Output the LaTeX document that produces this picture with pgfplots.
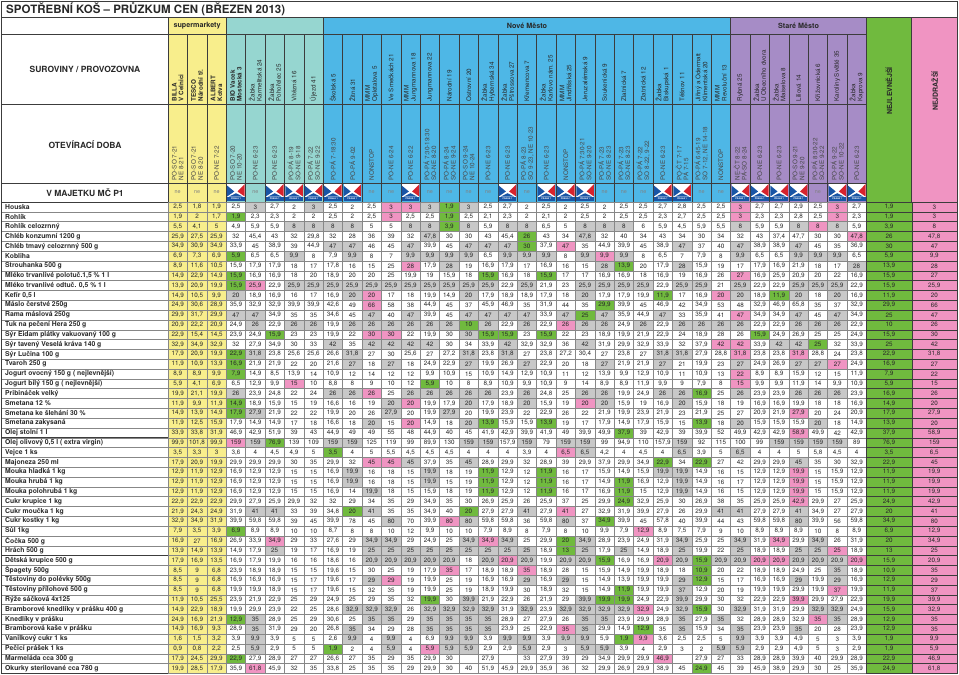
\documentclass[border=0pt]{standalone}
\usepackage{fontspec}
\setmainfont{TeX Gyre Heros}
\usepackage{pgfplots}
\usepackage{pgfplotstable}
\pgfplotsset{compat=1.18}

\definecolor{supc}{RGB}{248,238,140}
\definecolor{tealc}{RGB}{150,214,208}
\definecolor{bluec}{RGB}{78,183,230}
\definecolor{purc}{RGB}{166,140,198}
\definecolor{lowc}{RGB}{112,186,62}
\definecolor{highc}{RGB}{240,148,194}
\definecolor{grayc}{RGB}{200,200,200}
\definecolor{gridc}{RGB}{135,135,135}
\definecolor{darkc}{RGB}{60,60,60}
\definecolor{txtc}{RGB}{40,40,40}
\definecolor{logoblue}{RGB}{25,85,165}
\definecolor{logored}{RGB}{215,35,45}

% one table cell = 19.4 x 9.82 px (1 axis unit = 1pt)
\pgfdeclareplotmark{cell}{\pgfpathrectangle{\pgfqpoint{-9.7pt}{-4.91pt}}{\pgfqpoint{19.4pt}{9.82pt}}\pgfusepathqfillstroke}
\pgfdeclareplotmark{wcell}{\pgfpathrectangle{\pgfqpoint{-22.65pt}{-4.91pt}}{\pgfqpoint{45.3pt}{9.82pt}}\pgfusepathqfillstroke}

\pgfkeys{/pgf/number format/.cd, fixed, precision=1, use comma, 1000 sep={}, assume math mode=true}

\tikzset{
  lab/.style={anchor=west, inner sep=0pt, text=txtc, font=\bfseries\fontsize{6.8}{8}\selectfont},
  hdr/.style={inner sep=0pt, text=txtc, font=\bfseries\fontsize{8.5}{10}\selectfont},
  rot/.style={rotate=90, anchor=west, align=left, inner sep=0pt, text=txtc, font=\fontsize{6.3}{6.9}\selectfont},
}

% prices: 36 shops + cheapest + dearest
\pgfplotstableread{
s1 s2 s3 s4 s5 s6 s7 s8 s9 s10 s11 s12 s13 s14 s15 s16 s17 s18 s19 s20 s21 s22 s23 s24 s25 s26 s27 s28 s29 s30 s31 s32 s33 s34 s35 s36 lo hi
2.5 1.8 1.9 2.5 3 2.7 2 3  2.5 2 2.5 3 3 3 1.9 3 2.5 2.7 2 2.5 2 2.5 2 2.5 2.5  2.7 2.8 2.5 2.5 3 2.7 2.7 2.9 2.5 3 2.7  1.9 3
1.9 2 1.7 1.9 2.3 2.3 2 2  2.5 2 2.5 3 2.5 2.5 1.9 2.5 2.1 2.3 2 2.1 2 2.5 2 2.5 2.5  2.3 2.7 2.5 2.5 3 2.3 2.3 2.8 2.5 3 2.3  1.9 3
5.5 4.1 5 4.9 5.9 5.9 8 8  8 8 5 5 8 8 3.9 8 5.9 8 8 6.5 5 8 8 8 6  5.9 4.5 5.9 5.5 8 5.9 5.9 8 8 8 5.9  3.9 8
25.9 27.5 25.9 32 45.4 43 32 29.8  32 28 36 39 32 47.8 30 30 43 45.4 26 43 34 47.8 32 40 34  43 34 30 34 32 43 37.4 47.7 30 30 47.8  26 47.8
34.9 30.9 34.9 33.9 45 38.9 39 44.9  47 47 46 45 47 39.9 45 47 47 47 30 37.9 47 35 44.9 39.9 45  38.9 47 37 40 47 38.9 38.9 47 45 35 36.9  30 47
6.9 7.3 6.9 5.9 6.5 6.5 9.9 8  7.9 9.9 8 7 9.9 9.9 9.9 9.9 6.5 9.9 9.9 9.9 8 9.9 9.9 9.9 8  6.5 7 7.9 8 9.9 6.5 6.5 9.9 9.9 9.9 6.5  5.9 9.9
8.9 11.6 10.5 15.9 17.9 17.9 18 17  17.8 16 15 25 28 17.9 28 19 16.9 17.9 17 16.9 16 15 28 13.9 20  17.9 28 15.9 19 17 17.9 16.9 21.9 18 17 28  13.9 28
14.9 22.9 14.9 15.9 16.9 16.9 18 20  18.9 20 20 25 19.9 19 15.9 18 15.9 16.9 18 15.9 17 17 16.9 16.9 18  16.9 19 16.9 26 27 16.9 25.9 20.9 20 22 16.9  15.9 27
13.9 20.9 19.9 15.9 25.9 22.9 25.9 25.9  25.9 25.9 25.9 25.9 25.9 25.9 25.9 25.9 25.9 22.9 25.9 21.9 23 25.9 25.9 25.9 25.9  22.9 25.9 25.9 21 25.9 22.9 22.9 25.9 25.9 25.9 22.9  15.9 25.9
14.9 10.5 9.9 20 18.9 16.9 16 17  16.9 20 20 17 18 19.9 14.9 20 17.9 18.9 18.9 17.9 18 20 17.9 17.9 19.9  11.9 17 16.9 20 20 18.9 11.9 20 18 20 16.9  11.9 20
24.9 30.6 28.9 35.9 32.9 32.9 39.9 39.9  42.6 49 66 58 38 44.9 45 37 45.9 46.9 35 31.9 44 35 29.9 39.9 45  46.9 42 34.9 53 48 32.9 46.9 65.8 35 37 32.9  29.9 66
29.9 31.7 29.9 47 47 34.9 35 35  34.6 45 47 40 47 39.9 45 47 47 47 47 33.9 47 25 47 35.9 44.9  47 33 35.9 41 47 34.9 34.9 47 45 47 34.9  25 47
20.9 22.2 20.9 24.9 26 22.9 26 26  19.9 26 26 26 26 26 26 10 26 22.9 26 22.9 26 26 26 24.9 26  22.9 26 26 26 26 22.9 22.9 26 26 26 22.9  10 26
22.9 15.4 14.5 23.9 24.9 15.9 23 23  19.9 22 30 30 22 19.9 30 30 15.9 15.9 23 15.9 22 23 18.9 19.9 21.9  22.9 24 18.9 28 26 15.9 24.9 26.9 25 25 24.9  15.9 30
32.9 34.9 32.9 32 27.9 34.9 30 33  42 35 42 42 42 42 30 34 33.9 42 32.9 32.9 36 42 31.9 29.9 32.9  33.9 32 37.9 42 42 33.9 42 42 25 32 33.9  25 42
17.9 20.9 19.9 22.9 31.8 23.8 25.6 25.6  26.6 31.8 27 30 25.6 27 27.2 31.8 23.8 31.8 27 23.8 27.2 30.4 27 23.8 27  31.8 31.8 27.9 28.8 31.8 23.8 23.8 31.8 28.8 24 23.8  22.9 31.8
11.9 10.9 13.9 16.9 21.9 21.9 22 20  21.6 27 18 27 18 24.9 22.9 27 19.9 26.9 27 22.9 20 18 27 21.9 21.9  27 21 19.9 23 27 24.9 26.9 27 27 27 24.9  16.9 27
8.9 8.9 9.9 7.9 14.9 8.5 13.9 14  10.9 12 14 12 12 9.9 10.9 15 10.9 14.9 12.9 10.9 11 12 13.9 9.9 12.9  10.9 11 10.9 13 22 8.9 8.9 15.9 12 15 11.9  7.9 22
5.9 4.1 6.9 6.5 12.9 9.9 15 10  8.8 8 9 10 12 5.9 10 8 8.9 10.9 9.9 10.9 9 14 8.9 8.9 11.9  9.9 9 7.9 8 15 9.9 9.9 11.9 14 9.9 10.9  5.9 15
19.9 21.1 19.9 26 23.9 24.8 22 24  26 26 26 25 26 26 26 26 26 23.9 26 24.8 25 26 26 19.9 24.9  26 26 16.9 25 26 23.9 23.9 26 26 26 23.9  16.9 26
11.9 9.9 11.9 14.9 18.9 15.9 15 19  16.6 16 19 20 20 19.9 17.9 20 17.9 18.9 20 15.9 19 20 20 15.9 19  16.9 20 15.9 18 19 16.9 16.9 19.9 18 18 16.9  14.9 20
14.9 13.9 14.9 17.9 27.9 21.9 22 22  19.9 20 26 27.9 20 19.9 27.9 20 19.9 23.9 22 22.9 26 22 21.9 19.9 23.9  21.9 23 21.9 25 27 20.9 21.9 27.9 20 24 20.9  17.9 27.9
11.9 12.5 15.9 17.9 14.9 14.9 17 18  16.6 18 20 15 20 14.9 18 20 13.9 15.9 15.9 13.9 19 17 17.9 14.9 17.9  15.9 15 13.9 18 20 15.9 15.9 15.9 20 18 14.9  13.9 20
33.9 33.8 31.9 46.9 42.9 51.9 39 43  44.9 49 49 55 48 44.9 40 45 41.9 42.9 39.9 41.9 49 39.9 49.9 37.9 39  42.9 39 39.9 52 49.9 42.9 42.9 58.9 49.9 42 42.9  37.9 58.9
99.9 101.8 99.9 159 159 76.9 139 109  159 159 125 119 99 89.9 130 159 159 157.9 159 79 159 159 99 94.9 110  157.9 159 92 115 100 99 159 159 159 159 89  76.9 159
3.5 3.3 3 3.6 4 4.5 4.9 5  3.5 4 5 5.5 4.5 4.5 4.5 4 4 4 3.9 4 6.5 6.5 4.2 4 4.5  4 6.5 3.9 5 6.5 4 4 5 5.8 4.5 4  3.5 6.5
17.9 20.9 19.9 29.9 29.9 29.9 30 35  29.9 32 45 45 45 37.9 35 45 28.9 29.9 32 28.9 39 29.9 37.9 29.9 34.9  22.9 34 22.9 27 42 29.9 29.9 45 35 30 32.9  22.9 45
12.9 11.9 12.9 16.9 12.9 12.9 15 15  16.9 19.9 16 18 15 19.9 18 19 11.9 12.9 12 11.9 16 17 15.9 14.9 15.9  19.9 19.9 14.9 16 15 12.9 12.9 19.9 15 15.9 12.9  11.9 19.9
12.9 11.9 12.9 16.9 12.9 12.9 15 15  16.9 19.9 16 18 15 19.9 15 19 11.9 12.9 12 11.9 16 17 14.9 11.9 16.9  12.9 19.9 14.9 16 17 12.9 12.9 19.9 15 15.9 12.9  11.9 19.9
12.9 11.9 12.9 16.9 12.9 12.9 15 15  16.9 14 19.9 18 15 15.9 18 19 11.9 12.9 12 11.9 16 17 16.9 11.9 15  12.9 19.9 14.9 16 15 12.9 12.9 19.9 15 15.9 12.9  11.9 19.9
22.9 22.9 22.9 29.9 27.9 25.9 29.9 32  32 29 34 35 29 34.9 35 30 26.9 25.9 26 25.9 37 25 29.9 24.9 32.9  25.9 30 26.9 38 35 25.9 25.9 42.9 29.9 27 25.9  24.9 42.9
21.9 24.3 24.9 31.9 41 41 33 39  34.8 20 41 35 35 34.9 40 20 27.9 27.9 41 27.9 41 27 32.9 31.9 39.9  27.9 26 29.9 41 41 27.9 27.9 41 34.9 27 27.9  20 41
32.9 34.9 31.9 39.9 59.8 59.8 39 45  39.9 78 45 80 70 39.9 80 80 59.8 59.8 36 59.8 80 37 34.9 39.9 45  57.8 40 39.9 44 43 59.8 59.8 80 39.9 56 59.8  34.9 80
7.9 3.5 3.9 6.9 8.9 8.9 10 10  8.7 8 8 10 12 9.9 10 10 7.9 8.9 8 7.9 8 10 9.9 7.9 12.9  8.9 7.5 7.9 9 10 8.9 8.9 8.9 10 8 8.9  6.9 12.9
16.9 27 16.9 26.9 33.9 34.9 29 33  27.6 29 34.9 34.9 29 24.9 25 34.9 34.9 34.9 25 29.9 20 34.9 28.9 23.9 24.9  31.9 34.9 25.9 25 34.9 31.9 34.9 29.9 34.9 26 31.9  20 34.9
13.9 14.9 13.9 14.9 17.9 25 19 17  16.9 19 25 25 25 25 25 25 25 25 25 18.9 13 25 17.9 25 14.9  18.9 25 19.9 22 25 18.9 18.9 25 25 25 18.9  13 25
17.9 16.9 13.5 16.9 17.9 19.9 16 16  18.6 16 20.9 20.9 20.9 20.9 20.9 18 20.9 20.9 20.9 19.9 20.9 20.9 15.9 16.9 16.9  20.9 20.9 15.9 20.9 20.9 20.9 20.9 20.9 20.9 20.9 20.9  15.9 20.9
8.5 9 6.8 23.9 18.9 18.9 15 15  19.6 15 30 25 19 17.9 35 17 18.9 18.9 35 18.9 28 15 15.9 14.9 19.9  18.9 18 10.9 20 22 18.9 18.9 24.9 25 35 18.9  10.9 35
8.5 9 6.8 16.9 16.9 16.9 15 17  19.6 17 29 29 19 19.9 25 19 16.9 16.9 29 16.9 29 15 14.9 13.9 19.9  19.9 29 12.9 15 17 16.9 16.9 29 19.9 29 16.9  12.9 29
8.5 9 6.8 19.9 19.9 18.9 15 17  19.6 15 32 35 19 19.9 25 19 18.9 19.9 30 18.9 32 15 14.9 11.9 19.9  19.9 37 12.9 20 19 19.9 19.9 29.9 19.9 37 19.9  11.9 37
11.9 10.5 25.5 23.9 21.9 22.9 25 29  24.9 25 29 35 32 19.9 30 39.9 21.9 22.9 26 21.9 29 39.9 19.9 19.9 24.9  22.9 39.9 29.9 30 32 22.9 22.9 39.9 29.9 27.9 22.9  19.9 39.9
14.9 22.9 18.9 19.9 29.9 23.9 22 25  28.6 32.9 32.9 32.9 26 32.9 32.9 32.9 32.9 31.9 32.9 23.9 32.9 32.9 32.9 32.9 32.9  24.9 32.9 15.9 30 32.9 31.9 31.9 29.9 32.9 32.9 24.9  15.9 32.9
24.9 16.9 21.9 12.9 35 28.9 25 29  30.6 25 35 35 29 35 35 35 35 28.9 27 27.9 26 35 35 23.9 29.9  28.9 35 27.9 35 32 28.9 28.9 32.9 35 35 28.9  12.9 35
14.9 16.9 9.3 28.9 35 31.9 29 20  26.8 35 34 29 28 35 35 35 35 23.9 25 22.9 35 35 29.9 14.9 12.9  35 35 15.9 34 35 23.9 23.9 35 20 28 23.9  12.9 35
1.6 1.5 3.2 3.9 9.9 3.9 5 5  2.6 9.9 4 9.9 4 6.9 9.9 9.9 3.9 9.9 9.9 3.9 9.9 9.9 5.9 1.9 9.9  3.6 2.5 2.5 5 9.9 3.9 3.9 4.9 5 3 3.9  1.9 9.9
0.9 0.8 2.2 2.5 5.9 2.9 5 5  1.9 2 4 5.9 4 5.9 5.9 5.9 2.9 2.9 5.9 2.9 3 5.9 5.9 3.9 4  2.9 3 2 5.9 5.9 2.9 2.9 4.9 5 3 2.9  1.9 5.9
17.9 24.5 29.9 22.9 27.9 28.9 27 27  26.6 27 35 29 35 29.9 30 nan 27.9 nan 33 27.9 39 29 34.9 29.9 29.9  46.9 nan 27.9 27 33 28.9 28.9 39.9 40 29.9 28.9  22.9 46.9
19.9 28.5 17.9 35.9 61.8 45.9 32 35  33.8 25 35 35 29 29.9 30 40 51.9 45.9 29.9 35.9 36 32 29.9 26.9 29.9  38.9 45 24.9 45 39 45.9 38.9 29.9 30 25 35.9  24.9 61.8
}\prices

% cell shading: y supermarket, w plain, g grey, G cheapest, P dearest
\pgfplotstableread{
s1 s2 s3 s4 s5 s6 s7 s8 s9 s10 s11 s12 s13 s14 s15 s16 s17 s18 s19 s20 s21 s22 s23 s24 s25 s26 s27 s28 s29 s30 s31 s32 s33 s34 s35 s36
y y y w g w w g  w w w P P g G g w w w w w w w w w  w w w w P w w w w P w
y y y G w w w w  w w w P w w G w w w w w w w w w w  w w w w P w w w w P w
y y y w w w g g  g g w w g g G g w g g w w g g g w  w w w w g w w g P g w
y y y w w w w w  w w w w w g w w w w G w w g w w w  w w w w w w w w w w P
y y y w w w w w  g g w w g w w g g g G w P w w w w  w g w w g w w g w w w
y y y G w w g w  w g w w g g g g w g g g w g P g w  w w w w g w w g g g w
y y y w w w w w  w w w w P w g w w w w w w w g G w  w g w w w w w w w w g
y y y G w w w w  w w w w w w w w G w w G w w w w w  w w w w P w w w w w w
y y y G P w g g  g g g g g g g g g w g w w g g g g  w g g w g w w g g g w
y y y g w w w w  w g P w w w w g w w w w w g w w w  G w w P g w G g w g w
y y y w w w w w  w w P w w w w w w w w w w w G w w  w w w w w w w w w w w
y y y g g w w w  w w g w g w w g g g g w g G g w w  g w w w P w w g w g w
y y y w g w g g  w g g g g g g G g w g w P g g w g  w g g g g w w g g g w
y y y w w G w w  w w P P w w w g G G w G w w w w w  w w w w w G w w w w w
y y y w w w w w  g w g g g g w w w g w w w g w w w  w w w P P w g g G w w
y y y G g w w w  w g w w w w w g w g w w w w w w w  g g w w P w w P w w w
y y y G w w w w  w g w g w w w g w w g w w w g w w  g w w w g w w g g P w
y y y G w w w w  w w w w w w w w w w w w w w w w w  w w w w P w w w w w w
y y y w w w P w  w w w w w G w w w w w w w w w w w  w w w w P w w w w w w
y y y g w w w w  g g P w g g g g g w g w w g g w w  g g G w g w w g g g w
y y y G w w w w  w w w g P w w g w w g w w P g w w  w g w w w w w w w w w
y y y G g w w w  w w w g w w g w w w w w w w w w w  w w w w w w w P w w w
y y y w w w w w  w w g w P w w g G w w G w w w w w  w w G w g w w w g w w
y y y w w w w w  w w w w w w w w w w w w w w w G w  w w w w w w w P w w w
y y y P g G w w  g g w w w w w g g w g w g g w w w  w g w w w w g g g g w
y y y w w w w w  G w w w w w w w w w w w P g w w w  w g w w g w w w w w w
y y y w w w w w  w w P P g w w g w w w w w w w w w  G w G w w w w g w w w
y y y w w w w w  w g w w w g w w G w w G w w w w w  g g w w w w w P w w w
y y y w w w w w  w g w w w g w w G w w G w w w G w  w g w w w w w P w w w
y y y w w w w w  w w g w w w w w G w w G w w w G w  w g w w w w w P w w w
y y y w w w w w  w w w w w w w w w w w w w w w G w  w w w w w w w P w w w
y y y w g g w w  w G g w w w w G w w g w P w w w w  w w w g g w w g w w w
y y y w w w w w  w w w g w w P g w w w w g w G w w  w w w w w w w g w w w
y y y G w w w w  w w w w w w w w w w w w w w w w P  w w w w w w w w w w w
y y y w w P w w  w w g g w w w g P g w w G g w w w  w g w w g w P w g w w
y y y w w g w w  w w g g g g g g g g g w G g w g w  w g w w g w w g g P w
y y y w w w w w  w w g g g g g w g P g w g g G w w  P g G g g P P g g g P
y y y w w w w w  w w w w w w P w w w P w w w w w w  w w G w w w w w w g w
y y y w w w w w  w w g P w w w w w w g w g w w w w  w g G w w w w g w g w
y y y w w w w w  w w w w w w w w w w w w w w w G w  w g w w w w w w w P w
y y y w w w w w  w w w w w G w g w w w w w g G G w  w g w w w w w P w w w
y y y w w w w w  w g g g w g g g g w g w g g g g P  w g G w g w w w g g w
y y y G g w w w  w w g g w g g g g w w w w g g w w  w g w g w w w w P g w
y y y w g w w w  w g w w w g g g g w w w P g w w G  w g w w g w w g w w w
y y y w g w w w  w g w g w w g g w g g w g g w G P  w w w w g w w w w w w
y y y w g w w w  G w w g w P g g w w g w w g g w w  w w w g g w w w w w w
y y y G w w w w  w w w w w w w w w w w w w w w w w  P w w w w w w w w w w
y y y w P w w w  w w w w w w w w w w w w w w w w w  w w G w w w w w w w w
}\shades

\newcommand\prd[2]{\node[lab] at (5,{206.91+9.82*#1}) {#2};}
\newcommand\shop[3]{%
  \node[rot] at ({168+19.4*(#1-0.5)},101.5) {#2};
  \node[rot, text=txtc!85] at ({168+19.4*(#1-0.5)},180.5) {#3};}

\begin{document}
\begin{tikzpicture}
\begin{axis}[
  width=959pt, height=675pt, scale only axis,
  xmin=0, xmax=959, ymin=0, ymax=675, y dir=reverse,
  hide axis, clip=false,
  every node near coord/.append style={anchor=center, inner sep=0pt,
    font=\fontsize{6.3}{7}\selectfont, text=txtc},
]
% header backgrounds
\fill[white] (1.5,1.5) rectangle (957.5,673.5);
\fill[supc] (168,17) rectangle (226.2,202);
\fill[tealc] (226.2,17) rectangle (323.2,202);
\fill[bluec] (323.2,17) rectangle (730.6,202);
\fill[purc] (730.6,17) rectangle (866.4,202);
\fill[lowc] (866.4,17) rectangle (911.7,202);
\fill[highc] (911.7,17) rectangle (957.5,202);

% body cells
\pgfplotsinvokeforeach{1,...,36}{
  \addplot[scatter, only marks, mark=cell, point meta=explicit symbolic,
    mark options={draw=gridc, line width=0.3pt},
    scatter/classes={y={fill=supc}, w={fill=white}, g={fill=grayc},
                     G={fill=lowc}, P={fill=highc}}]
    table[x expr={168+19.4*(#1-0.5)}, y expr={206.91+9.82*\coordindex}, meta=s#1] {\shades};
  \addplot[draw=none, mark=none, nodes near coords, point meta=explicit]
    table[x expr={168+19.4*(#1-0.5)}, y expr={\thisrow{s#1}*0+206.91+9.82*\coordindex}, meta=s#1] {\prices};
}
\addplot[only marks, mark=wcell, mark options={draw=darkc, fill=lowc, line width=0.3pt},
  nodes near coords, point meta=explicit]
  table[x expr=889.05, y expr={206.91+9.82*\coordindex}, meta=lo] {\prices};
\addplot[only marks, mark=wcell, mark options={draw=darkc, fill=highc, line width=0.3pt},
  nodes near coords, point meta=explicit]
  table[x expr=934.35, y expr={206.91+9.82*\coordindex}, meta=hi] {\prices};

% label column row lines
\pgfplotsinvokeforeach{1,...,47}{
  \draw[gridc, line width=0.3pt] (1.5,{202+9.82*#1}) -- (168,{202+9.82*#1});
}
% header rules
\pgfplotsinvokeforeach{1,...,35}{
  \draw[darkc, line width=0.4pt] ({168+19.4*#1},34) -- ({168+19.4*#1},202);
}
\draw[darkc, line width=0.5pt] (1.5,34) -- (866.4,34);
\draw[darkc, line width=0.5pt] (1.5,104) -- (866.4,104);
\draw[darkc, line width=0.5pt] (1.5,183) -- (866.4,183);
\draw[darkc, line width=0.8pt] (1.5,17) -- (957.5,17);
\draw[darkc, line width=0.8pt] (1.5,202) -- (957.5,202);
\draw[darkc, line width=0.6pt] (1.5,437.68) -- (957.5,437.68);
\draw[darkc, line width=0.6pt] (1.5,555.52) -- (957.5,555.52);
\pgfplotsinvokeforeach{168,226.2,323.2,730.6,866.4,911.7}{
  \draw[darkc, line width=0.6pt] (#1,17) -- (#1,673.5);
}
\draw[darkc, line width=1pt] (1.5,1.5) rectangle (957.5,673.5);

% ownership row
\pgfplotsinvokeforeach{1,2,3,5,11,12,14,15,16,17,19,23,24,25,28,29,34}{
  \node[inner sep=0pt, text=darkc!65, font=\fontsize{5.4}{5.4}\selectfont] at ({168+19.4*(#1-0.5)},192.5) {ne};
}
\pgfplotsinvokeforeach{4,6,7,8,9,10,13,18,20,21,22,26,27,30,31,32,33,35,36}{
  \fill[white] ({168+19.4*(#1-1)+0.9},183.9) rectangle ({168+19.4*#1-0.9},201.1);
  \fill[logoblue] ({168+19.4*(#1-1)+0.9},185.5) -- ({168+19.4*(#1-0.5)-1.6},191.5) -- ({168+19.4*(#1-1)+0.9},196.5) -- cycle;
  \fill[logored] ({168+19.4*#1-0.9},184.2) -- ({168+19.4*(#1-0.5)+1.6},191.5) -- ({168+19.4*#1-0.9},196.5) -- cycle;
  \fill[logoblue] ({168+19.4*(#1-1)+3},196.5) -- ({168+19.4*(#1-0.5)},193.2) -- ({168+19.4*#1-3},196.5) -- cycle;
  \fill[logoblue] ({168+19.4*(#1-1)+0.9},196.5) rectangle ({168+19.4*#1-0.9},201.1);
  \node[inner sep=0pt, text=white, font=\bfseries\fontsize{2.2}{2.2}\selectfont] at ({168+19.4*(#1-0.5)},198.8) {PRAHA 1};
}

% titles
\node[anchor=west, inner sep=0pt, text=txtc, font=\bfseries\fontsize{11.5}{13}\selectfont] at (6,9.5) {SPOTŘEBNÍ KOŠ – PRŮZKUM CEN (BŘEZEN 2013)};
\node[hdr, font=\bfseries\fontsize{7.2}{8}\selectfont] at (197.1,25.5) {supermarkety};
\node[hdr, font=\bfseries\fontsize{7.2}{8}\selectfont] at (527,25.5) {Nové Město};
\node[hdr, font=\bfseries\fontsize{7.2}{8}\selectfont] at (798.5,25.5) {Staré Město};
\node[hdr, rotate=90, font=\bfseries\fontsize{7}{8}\selectfont] at (889.05,91) {NEJLEVNĚJŠÍ};
\node[hdr, rotate=90, font=\bfseries\fontsize{7}{8}\selectfont] at (934.6,91) {NEJDRAŽŠÍ};
\node[hdr] at (85,69) {SUROVINY / PROVOZOVNA};
\node[hdr] at (85,145) {OTEVÍRACÍ DOBA};
\node[hdr] at (85,192.5) {V MAJETKU MČ P1};

% shops
\shop{1}{\textbf{BILLA}\\\textbf{V Celnici}}{PO-SO 7-21\\NE 8-21}
\shop{2}{\textbf{TESCO}\\\textbf{Národní tř.}}{PO-SO 7-21\\NE 8-20}
\shop{3}{\textbf{ALBERT}\\\textbf{Kotva}}{PO-NE 7-22}
\shop{4}{\textbf{BIO Vacek}\\\textbf{Mostecká 3}}{PO-SO 7-20\\NE 10-20}
\shop{5}{Žabka\\Karmelitská 24}{PO-NE 6-23}
\shop{6}{Žabka\\Pohořelec 25}{PO-NE 6-23}
\shop{7}{Vítězná 16}{PO-PÁ 8-19\\SO-NE 9-18}
\shop{8}{Újezd 41}{PO-PÁ 7-22\\SO-NE 9-22}
\shop{9}{Školská 5}{PO-PÁ 7-18:30}
\shop{10}{Žitná 31}{PO-PÁ 9-02}
\shop{11}{MMM\\Opletalova 5}{NONSTOP}
\shop{12}{Ve Smečkách 21}{PO-NE 6-24}
\shop{13}{MMM\\Jungmannova 18}{PO-NE 6-22}
\shop{14}{Jungmannova 22}{PO-PÁ 7:30-19:30\\SO-NE 8-20}
\shop{15}{Národní 19}{PO-PÁ 8-24\\SO-NE 9-24}
\shop{16}{Ostrovní 20}{PO-SO 9-24\\NE 10-24}
\shop{17}{Žabka\\Hybernská 34}{PO-NE 6-23}
\shop{18}{Žabka\\Pštrossova 27}{PO-NE 6-23}
\shop{19}{Křemencova 7}{PO-PÁ 8-23\\SO 9-23, NE 10-23}
\shop{20}{Žabka\\Karlovo nám. 25}{PO-NE 6-23}
\shop{21}{MMM\\Jindřišská 25}{NONSTOP}
\shop{22}{Jeruzalémská 9}{PO-PÁ 7:30-21\\SO-NE 9-20}
\shop{23}{Soukenická 9}{PO-PÁ 7-23\\SO-NE 8-23}
\shop{24}{Zlatnická 7}{PO-PÁ 7-23\\SO-NE 8-23}
\shop{25}{Zlatnická 12}{PO-PÁ 7-22\\SO 8-22, 9-22}
\shop{26}{Žabka\\Biskupská 1}{PO-NE 6-23}
\shop{27}{Těšnov 11}{PO-ČT 7-17\\PÁ 7-15}
\shop{28}{Jiřiný a Odermatt\\Klimentská 20}{PO-PÁ 6:45-19\\SO 7-12, NE 14-18}
\shop{29}{MMM\\Revoluční 13}{NONSTOP}
\shop{30}{Rybná 25}{NE-ČT 8-22\\PÁ-SO 8-24}
\shop{31}{Žabka\\U Obecního dvora}{PO-NE 6-23}
\shop{32}{Žabka\\Maiselova 8}{PO-NE 6-23}
\shop{33}{Liliová 14}{PO-SO 9-21\\NE 9-20}
\shop{34}{Křižovnická 6}{PO-PÁ 8:30-22\\SO-NE 9-22}
\shop{35}{Karoliny Světlé 35}{PO-PÁ 9-22\\SO-NE 10-22}
\shop{36}{Žabka\\Kaprova 9}{PO-NE 6-23}

% products
\prd{0}{Houska}
\prd{1}{Rohlík}
\prd{2}{Rohlík celozrnný}
\prd{3}{Chléb konzumní 1200 g}
\prd{4}{Chléb tmavý celozrnný 500 g}
\prd{5}{Kobliha}
\prd{6}{Strouhanka  500 g}
\prd{7}{Mléko trvanlivé polotuč.1,5 \% 1 l}
\prd{8}{Mléko trvanlivé odtuč. 0,5 \% 1 l}
\prd{9}{Kefír 0,5 l}
\prd{10}{Máslo čerstvé 250g}
\prd{11}{Rama máslová 250g}
\prd{12}{Tuk na pečení Hera 250 g}
\prd{13}{Sýr Eidam plátky vakuovaný 100 g}
\prd{14}{Sýr tavený Veselá kráva 140 g}
\prd{15}{Sýr Lučina 100 g}
\prd{16}{Tvaroh  250 g}
\prd{17}{Jogurt ovocný 150 g ( nejlevnější)}
\prd{18}{Jogurt bílý 150 g ( nejlevnější)}
\prd{19}{Pribináček velký}
\prd{20}{Smetana 12 \%}
\prd{21}{Smetana ke šlehání 30 \%}
\prd{22}{Smetana zakysaná}
\prd{23}{Olej stolní 1 l}
\prd{24}{Olej olivový 0,5 l ( extra virgin)}
\prd{25}{Vejce  1 ks}
\prd{26}{Majoneza  250 ml}
\prd{27}{Mouka hladká 1 kg}
\prd{28}{Mouka hrubá 1 kg}
\prd{29}{Mouka polohrubá 1 kg}
\prd{30}{Cukr krupice 1 kg}
\prd{31}{Cukr moučka 1 kg}
\prd{32}{Cukr kostky 1 kg}
\prd{33}{Sůl 1kg}
\prd{34}{Čočka 500 g}
\prd{35}{Hrách 500 g}
\prd{36}{Dětská krupice 500 g}
\prd{37}{Špagety 500g}
\prd{38}{Těstoviny do polévky 500g}
\prd{39}{Těstoviny přílohové 500 g}
\prd{40}{Rýže sáčková 4x125}
\prd{41}{Bramborové knedlíky v prášku 400 g}
\prd{42}{Knedlíky v prášku}
\prd{43}{Bramborová kaše v prášku}
\prd{44}{Vanilkový cukr 1 ks}
\prd{45}{Pečicí prášek 1 ks}
\prd{46}{Marmeláda cca 300 g}
\prd{47}{Okurky sterilované cca 780 g}
\end{axis}
\pgfresetboundingbox
\path (current axis.south west) rectangle (current axis.north east);
\end{tikzpicture}
\end{document}
